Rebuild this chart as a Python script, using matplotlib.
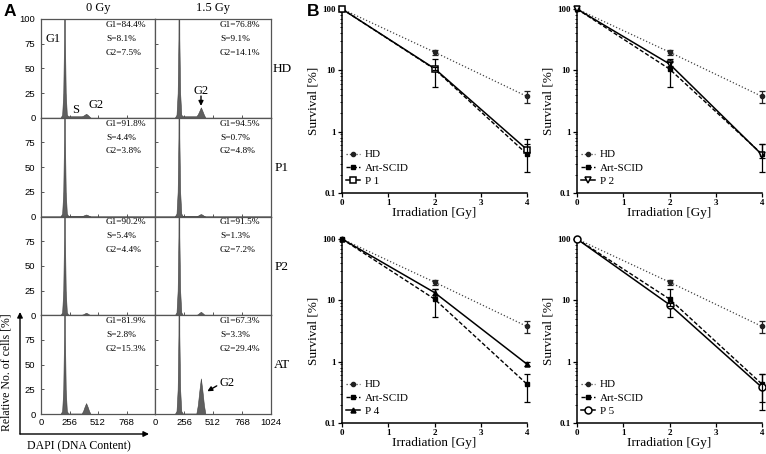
import matplotlib
matplotlib.use('Agg')
import matplotlib.pyplot as plt
from matplotlib.patches import FancyArrowPatch
from matplotlib.ticker import LogLocator, NullFormatter, FixedLocator, FixedFormatter

plt.rcParams['font.family'] = ['Liberation Serif', 'DejaVu Serif']

# ---------------- Panel A data (cell-cycle histograms) ----------------
row_labels = ['HD', 'P1', 'P2', 'AT']
col_titles = ['0 Gy', '1.5 Gy']
dna_x = [0, 175, 190, 200, 207, 211, 215, 222, 232, 245, 365, 378, 392, 405, 418, 432, 445, 1024]
hist_HD_0   = [0, 0, 3, 25, 80, 250, 80, 25, 3, 1.5, 1.5, 2.0, 3.0, 4.0, 3.0, 1.5, 0, 0]
hist_HD_15  = [0, 0, 3, 25, 80, 250, 80, 25, 3, 1.5, 1.5, 3.5, 7.0, 10.5, 7.0, 3.0, 0, 0]
hist_P1_0   = [0, 0, 3, 25, 80, 250, 80, 25, 3, 0.5, 0.5, 0.8, 1.5, 2.0, 1.5, 0.6, 0, 0]
hist_P1_15  = [0, 0, 3, 25, 80, 250, 80, 25, 3, 0.3, 0.3, 0.8, 1.8, 2.5, 1.8, 0.6, 0, 0]
hist_P2_0   = [0, 0, 3, 25, 80, 250, 80, 25, 3, 0.5, 0.5, 0.9, 1.8, 2.5, 1.8, 0.7, 0, 0]
hist_P2_15  = [0, 0, 3, 25, 80, 250, 80, 25, 3, 0.3, 0.3, 1.0, 2.4, 3.5, 2.4, 0.9, 0, 0]
hist_AT_0   = [0, 0, 3, 25, 80, 250, 80, 25, 3, 0.5, 0.5, 3.0, 7.5, 11.0, 7.5, 3.0, 0, 0]
hist_AT_15  = [0, 0, 3, 25, 80, 250, 80, 25, 3, 0.5, 0.5, 9.0, 24.0, 36.0, 24.0, 9.0, 0, 0]
hists = [[hist_HD_0, hist_HD_15], [hist_P1_0, hist_P1_15],
         [hist_P2_0, hist_P2_15], [hist_AT_0, hist_AT_15]]

g1_pct = [['84.4', '76.8'], ['91.8', '94.5'], ['90.2', '91.5'], ['81.9', '67.3']]
s_pct  = [['8.1', '9.1'], ['4.4', '0.7'], ['5.4', '1.3'], ['2.8', '3.3']]
g2_pct = [['7.5', '14.1'], ['3.8', '4.8'], ['4.4', '7.2'], ['15.3', '29.4']]

hist_yticks = [0, 25, 50, 75, 100]
hist_xticks = [0, 256, 512, 768, 1024]

# ---------------- Panel B data (survival curves) ----------------
dose = [0, 2, 4]
hd_surv = [100, 19.8, 3.75]
hd_lo = [0, 1.8, 0.85]
hd_hi = [0, 1.9, 0.9]
art_surv = [100, 10.5, 0.43]
art_lo = [0, 5.2, 0.21]
art_hi = [0, 5.0, 0.2]
patient_names = ['P 1', 'P 2', 'P 4', 'P 5']
p1_surv = [100, 10.7, 0.51]
p1_lo = [0, 0.5, 0.05]
p1_hi = [0, 0.5, 0.25]
p2_surv = [100, 12.7, 0.42]
p2_lo = [0, 1.0, 0.05]
p2_hi = [0, 1.2, 0.2]
p4_surv = [100, 13.4, 0.91]
p4_lo = [0, 1.0, 0.06]
p4_hi = [0, 2.0, 0.07]
p5_surv = [100, 8.5, 0.38]
p5_lo = [0, 0.4, 0.22]
p5_hi = [0, 0.5, 0.25]
patients = [(p1_surv, p1_lo, p1_hi), (p2_surv, p2_lo, p2_hi),
            (p4_surv, p4_lo, p4_hi), (p5_surv, p5_lo, p5_hi)]
patient_markers = [dict(marker='s', ms=5, mfc='white'), dict(marker='v', ms=4.5, mfc='white'),
                   dict(marker='^', ms=3.5, mfc='black'), dict(marker='o', ms=5, mfc='white')]

W, H = 766, 454
fig = plt.figure(figsize=(W / 100, H / 100), dpi=100)


def fx(px):
    return px / W


def fy(py):
    return 1 - py / H


# ---------------- Panel A ----------------
col_left = [41, 155]
col_w = [114, 116]
row_top = 19
row_h = 98.75
frame_col = '#555555'
sans = ['Liberation Sans', 'DejaVu Sans']
for r in range(4):
    for c in range(2):
        top = row_top + r * row_h
        ax = fig.add_axes([fx(col_left[c]), fy(top + row_h), fx(col_w[c]), row_h / H])
        ax.fill_between(dna_x, hists[r][c], 0, color='#5f5f5f', lw=0.4, edgecolor='#404040', zorder=2)
        ax.set_xlim(0, 1024)
        ax.set_ylim(0, 100)
        for sp in ax.spines.values():
            sp.set_color(frame_col)
            sp.set_linewidth(0.9)
        ax.set_yticks(hist_yticks)
        ax.set_xticks(hist_xticks)
        ax.tick_params(direction='in', length=2.5, width=0.7, color=frame_col,
                       labelsize=6.8, pad=4)
        if c == 0:
            labs = ['0', '25', '50', '75', '100'] if r == 0 else ['0', '25', '50', '75', '']
            ax.set_yticklabels(labs, fontfamily=sans)
        else:
            ax.set_yticklabels([])
        if r == 3:
            labs = ['0', '256', '512', '768', '1024'] if c == 1 else ['0', '256', '512', '768', '']
            ax.set_xticklabels(labs, fontfamily=sans)
            ax.tick_params(axis='x', pad=3)
        else:
            ax.set_xticklabels([])
        tx = 0.57 if c == 0 else 0.56
        ax.text(tx, 0.94, f'G1={g1_pct[r][c]}%', transform=ax.transAxes, fontsize=6.7,
                va='center', ha='left')
        ax.text(tx, 0.80, f'S={s_pct[r][c]}%', transform=ax.transAxes, fontsize=6.7,
                va='center', ha='left')
        ax.text(tx, 0.66, f'G2={g2_pct[r][c]}%', transform=ax.transAxes, fontsize=6.7,
                va='center', ha='left')
        if r == 0 and c == 0:
            ax.text(108, 80, 'G1', fontsize=9, ha='center', va='center')
            ax.text(312, 8, 'S', fontsize=9, ha='center', va='center')
            ax.text(494, 13, 'G2', fontsize=9, ha='center', va='center')
        if r == 0 and c == 1:
            ax.text(406, 27, 'G2', fontsize=9, ha='center', va='center')
            ax.annotate('', xy=(406, 12), xytext=(406, 22),
                        arrowprops=dict(arrowstyle='-|>', color='black', lw=1.0,
                                        mutation_scale=7, shrinkA=0, shrinkB=0))
        if r == 3 and c == 1:
            ax.text(640, 31, 'G2', fontsize=9, ha='center', va='center')
            ax.annotate('', xy=(462, 23), xytext=(545, 28.5),
                        arrowprops=dict(arrowstyle='-|>', color='black', lw=1.0,
                                        mutation_scale=7, shrinkA=0, shrinkB=0))
    fig.text(fx(282), fy(row_top + r * row_h + 50), row_labels[r], fontsize=9.5,
             ha='center', va='center')

for c in range(2):
    fig.text(fx(col_left[c] + col_w[c] / 2), fy(8), col_titles[c], fontsize=9,
             ha='center', va='center')

# axis arrows and labels of panel A
fig.add_artist(FancyArrowPatch((fx(20), fy(434)), (fx(20), fy(312)), transform=fig.transFigure,
                               arrowstyle='-|>', mutation_scale=8, color='black', lw=1.0,
                               shrinkA=0, shrinkB=0))
fig.add_artist(FancyArrowPatch((fx(20), fy(434)), (fx(149), fy(434)), transform=fig.transFigure,
                               arrowstyle='-|>', mutation_scale=8, color='black', lw=1.0,
                               shrinkA=0, shrinkB=0))
fig.text(fx(7), fy(372), 'Relative No. of cells [%]', rotation=90, fontsize=8.5,
         ha='center', va='center')
fig.text(fx(79), fy(446), 'DAPI (DNA Content)', fontsize=8.5, ha='center', va='center')

fig.text(fx(10), fy(11), 'A', fontsize=12.5, fontweight='bold', fontfamily=sans,
         ha='center', va='center')
fig.text(fx(313), fy(11), 'B', fontsize=12.5, fontweight='bold', fontfamily=sans,
         ha='center', va='center')

# ---------------- Panel B ----------------
b_left = [342, 577]
b_top = [9, 239]
b_w = 185
b_h = 184
for i in range(4):
    r, c = divmod(i, 2)
    ax = fig.add_axes([fx(b_left[c]), fy(b_top[r] + b_h), b_w / W, b_h / H])
    ax.plot(dose, hd_surv, ls=':', color='#444444', lw=0.9, marker='o', ms=3,
            mfc='#222222', mec='#222222', label='HD', zorder=3)
    ax.errorbar(dose[1:], hd_surv[1:], yerr=[hd_lo[1:], hd_hi[1:]], fmt='none',
                ecolor='#222222', elinewidth=0.9, capsize=2.5, capthick=0.9, zorder=3)
    ax.plot(dose, art_surv, ls=(0, (3, 1.5)), color='black', lw=1.0, marker='s', ms=3.5,
            mfc='black', mec='black', label='Art-SCID', zorder=4)
    ax.errorbar(dose[1:], art_surv[1:], yerr=[art_lo[1:], art_hi[1:]], fmt='none',
                ecolor='black', elinewidth=0.9, capsize=2.5, capthick=0.9, zorder=4)
    sv, lo, hi = patients[i]
    mk = patient_markers[i]
    ax.plot(dose, sv, ls='-', color='black', lw=1.1, marker=mk['marker'], ms=mk['ms'],
            mfc=mk['mfc'], mec='black', mew=1.1, label=patient_names[i], zorder=5)
    ax.errorbar(dose[1:], sv[1:], yerr=[lo[1:], hi[1:]], fmt='none', ecolor='black',
                elinewidth=0.9, capsize=2.5, capthick=0.9, zorder=5)
    ax.set_yscale('log')
    ax.set_ylim(0.1, 100)
    ax.set_xlim(0, 4)
    for m in ax.lines:
        m.set_clip_on(False)
    for coll in ax.collections:
        coll.set_clip_on(False)
    ax.spines['top'].set_visible(False)
    ax.spines['right'].set_visible(False)
    for sp in ('left', 'bottom'):
        ax.spines[sp].set_linewidth(1.1)
    ax.set_xticks([0, 1, 2, 3, 4])
    ax.yaxis.set_major_locator(FixedLocator([0.1, 1, 10, 100]))
    ax.yaxis.set_major_formatter(FixedFormatter(['0.1', '1', '10', '100']))
    ax.yaxis.set_minor_locator(LogLocator(base=10, subs=range(2, 10)))
    ax.yaxis.set_minor_formatter(NullFormatter())
    ax.tick_params(which='major', direction='out', length=3, width=0.9, labelsize=6.5, pad=1.5)
    ax.tick_params(which='minor', direction='out', length=1.5, width=0.6)
    for lab in ax.get_xticklabels() + ax.get_yticklabels():
        lab.set_fontweight('bold')
    ax.set_xlabel('Irradiation [Gy]', fontsize=9.5, labelpad=0)
    ax.set_ylabel('Survival [%]', fontsize=9.5, labelpad=2)
    ax.legend(loc='lower left', bbox_to_anchor=(0.02, 0.04), frameon=False, fontsize=8,
              handlelength=1.3, handletextpad=0.4, labelspacing=0.3, borderaxespad=0,
              borderpad=0)

fig.savefig('out.png', dpi=100)
